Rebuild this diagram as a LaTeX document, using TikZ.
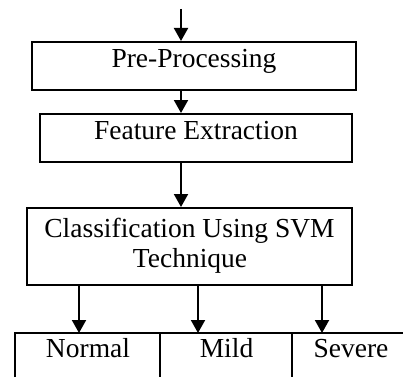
\documentclass[tikz,border=0pt]{standalone}
\usepackage{fontspec}
\setmainfont{Liberation Serif}
\usetikzlibrary{arrows.meta}
\begin{document}
\begin{tikzpicture}[x=1pt,y=-1pt,
  box/.style={draw,line width=2pt,inner sep=0pt},
  lbl/.style={font=\fontsize{27.5}{32}\selectfont,inner sep=0pt,anchor=base},
  arr/.style={line width=2pt,-{Triangle[width=14pt,length=13pt]}},
  rule/.style={line width=2pt}]
\useasboundingbox (0,0) rectangle (403,377);
% boxes
\node[box,minimum width=324pt,minimum height=48pt] (pre) at (194,66) {};
\node[lbl] at (194,67) {Pre-Processing};
\node[box,minimum width=312pt,minimum height=48pt] (fe) at (196,138) {};
\node[lbl] at (196,139) {Feature Extraction};
\node[box,minimum width=325pt,minimum height=77pt] (cls) at (189.5,246.5) {};
\node[lbl] at (189.5,237) {Classification Using SVM};
\node[lbl] at (190,267) {Technique};
% inputs
\coordinate (in) at (181,9);
\coordinate (a1) at (181,90);
\coordinate (a2) at (181,161);
\draw[arr] (in) -- (in |- pre.north);
\draw[arr] (a1) -- (a1 |- fe.north);
\draw[arr] (a2) -- (a2 |- cls.north);
% outputs row
\coordinate (rl) at (15,333);
\coordinate (rr) at (403,333);
\draw[rule] (15,377) -- (rl) -- (rr);
\draw[rule] (160,333) -- (160,377);
\draw[rule] (292,333) -- (292,377);
\node[lbl] (n) at (88,357) {Normal};
\node[lbl] (m) at (226.5,357) {Mild};
\node[lbl] (s) at (351,357) {Severe};
\coordinate (t1) at (79,333);
\coordinate (t2) at (198,333);
\coordinate (t3) at (322,333);
\draw[arr] (79,284) -- (t1);
\draw[arr] (198,284) -- (t2);
\draw[arr] (322,284) -- (t3);
\end{tikzpicture}
\end{document}
